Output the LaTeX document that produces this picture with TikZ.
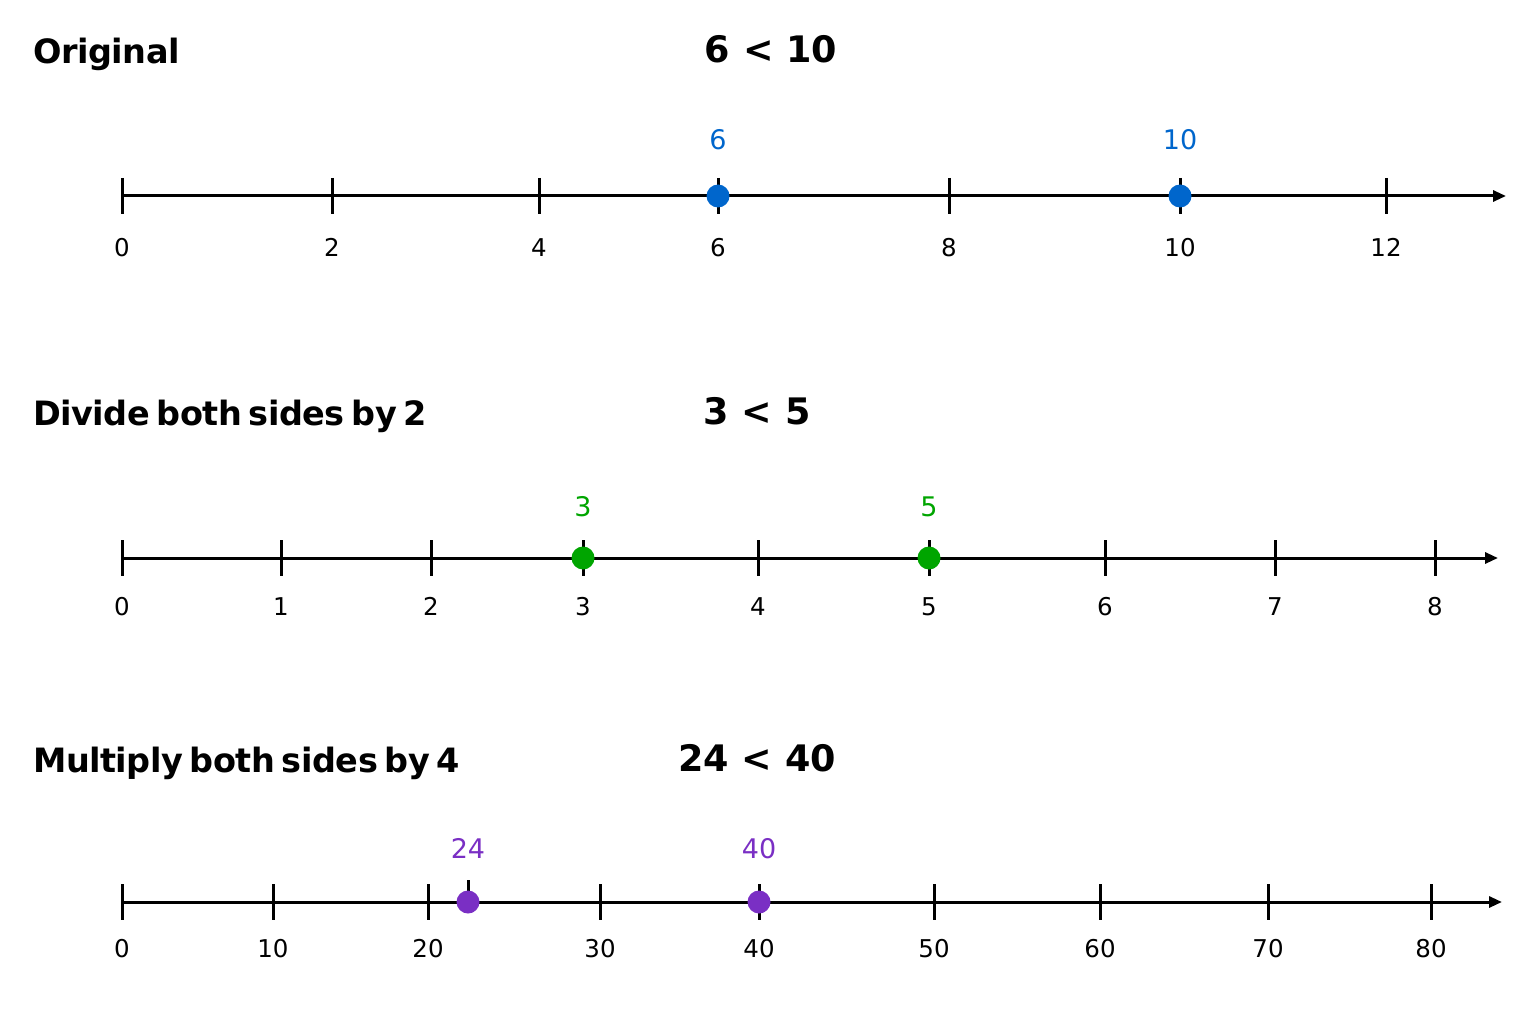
\documentclass[tikz,border=0pt]{standalone}
\usepackage{fontspec}
\setmainfont{DejaVu Sans}
\newfontfamily\titlefont[WordSpace=0.6,LetterSpace=-1.5]{DejaVu Sans}
\usetikzlibrary{arrows.meta}
\definecolor{cblue}{HTML}{0066CC}
\definecolor{cgreen}{HTML}{00A500}
\definecolor{cpurple}{HTML}{7A2FC4}
\begin{document}
\begin{tikzpicture}[x=1pt,y=-1pt,
  axis/.style={line width=3pt,-{Triangle[length=13pt,width=11pt]}},
  tk/.style={line width=3pt},
  num/.style={font=\fontsize{24.5}{26}\selectfont,inner sep=0pt,anchor=base},
  dlab/.style={font=\fontsize{27}{29}\selectfont,inner sep=0pt,anchor=base},
  title/.style={font=\fontsize{33.5}{36}\selectfont\titlefont\bfseries,inner sep=0pt,anchor=base west},
  ineq/.style={font=\fontsize{36.5}{40}\selectfont\bfseries,inner sep=0pt,anchor=base},
  dot/.style={circle,inner sep=0pt,minimum size=23pt}]
\useasboundingbox (0,0) rectangle (1536,1024);
% ---------- Row 1
\node[title] (t1) at (33,64) {Original};
\node[ineq] (i1) at (771,63) {6 < 10};
\coordinate (a1s) at (122,196);
\coordinate (a1e) at (1506,196);
\draw[axis] (a1s) -- (a1e);
\foreach \x/\l [count=\i] in {122/0,332/2,539/4,718/6,949/8,1180/10,1386/12}{
  \draw[tk] (\x,178) -- (\x,214);
  \node[num] (r1l\i) at (\x,257) {\l};
}
\node[dot,fill=cblue] (d1a) at (718,196) {};
\node[dot,fill=cblue] (d1b) at (1180,196) {};
\node[dlab,text=cblue] (d1al) at (718,150) {6};
\node[dlab,text=cblue] (d1bl) at (1180,150) {10};
% ---------- Row 2
\node[title] (t2) at (33,425) {Divide both sides by 2};
\node[ineq] (i2) at (757,424) {3 < 5};
\coordinate (a2s) at (122,558);
\coordinate (a2e) at (1498,558);
\draw[axis] (a2s) -- (a2e);
\foreach \x/\l [count=\i] in {122/0,281/1,431/2,583/3,758/4,929/5,1105/6,1275/7,1435/8}{
  \draw[tk] (\x,540) -- (\x,576);
  \node[num] (r2l\i) at (\x,615) {\l};
}
\node[dot,fill=cgreen] (d2a) at (583,558) {};
\node[dot,fill=cgreen] (d2b) at (929,558) {};
\node[dlab,text=cgreen] (d2al) at (583,516) {3};
\node[dlab,text=cgreen] (d2bl) at (929,516) {5};
% ---------- Row 3
\node[title] (t3) at (33,772) {Multiply both sides by 4};
\node[ineq] (i3) at (757,771) {24 < 40};
\coordinate (a3s) at (122,902);
\coordinate (a3e) at (1502,902);
\draw[axis] (a3s) -- (a3e);
\foreach \x/\l [count=\i] in {122/0,273/10,428/20,600/30,759/40,934/50,1100/60,1268/70,1431/80}{
  \draw[tk] (\x,884) -- (\x,920);
  \node[num] (r3l\i) at (\x,957) {\l};
}
\draw[tk] (468,880) -- (468,902);
\node[dot,fill=cpurple] (d3a) at (468,902) {};
\node[dot,fill=cpurple] (d3b) at (759,902) {};
\node[dlab,text=cpurple] (d3al) at (468,858) {24};
\node[dlab,text=cpurple] (d3bl) at (759,858) {40};
\end{tikzpicture}
\end{document}
